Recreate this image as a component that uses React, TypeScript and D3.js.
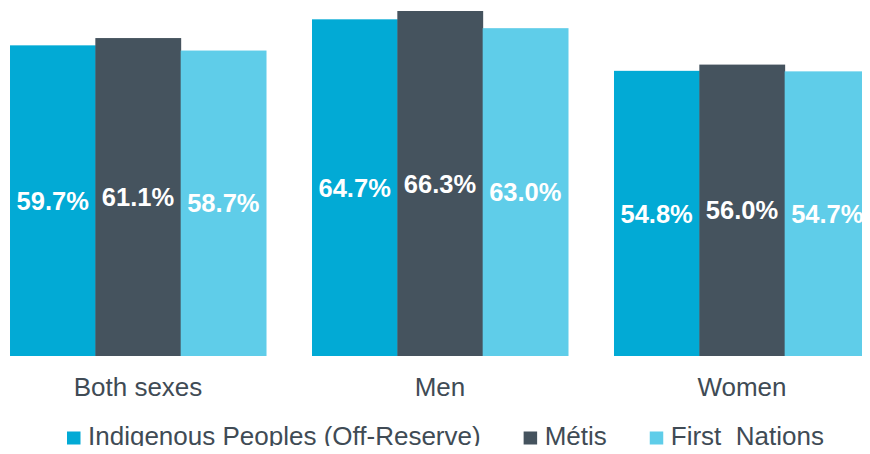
import React, { useEffect, useRef } from "react";
import * as d3 from "d3";

const categories = ["Both sexes", "Men", "Women"];
const seriesNames = ["Indigenous Peoples (Off-Reserve)", "Métis", "First  Nations"];
const indigenousValues = [59.7, 64.7, 54.8];
const metisValues = [61.1, 66.3, 56.0];
const firstNationsValues = [58.7, 63.0, 54.7];
const seriesColors = ["#02AAD5", "#45535E", "#5FCDE9"];

const W = 870;
const H = 454;
const FONT = "'Liberation Sans', Arial, sans-serif";
const TEXT = "#404B55";

export default function App() {
  const ref = useRef<SVGSVGElement>(null);

  useEffect(() => {
    const svg = d3.select(ref.current);
    svg.selectAll("*").remove();
    const seriesValues = [indigenousValues, metisValues, firstNationsValues];

    const x0 = d3.scaleBand<string>().domain(categories).range([-13, 893]).paddingInner(0.1523).paddingOuter(0.0762);
    const x1 = d3.scaleBand<number>().domain([0, 1, 2]).range([0, x0.bandwidth()]);
    const y = d3.scaleLinear().domain([0, 66.3]).range([356, 11]);

    const groups = svg
      .selectAll("g.cat")
      .data(categories)
      .join("g")
      .attr("class", "cat")
      .attr("transform", (d) => `translate(${x0(d)},0)`);

    groups.each(function (cat, ci) {
      const g = d3.select(this);
      const rows = seriesValues.map((vals, si) => ({ si, v: vals[ci] }));
      g.selectAll("rect")
        .data(rows)
        .join("rect")
        .attr("x", (d) => x1(d.si)!)
        .attr("width", x1.bandwidth() + 0.5)
        .attr("y", (d) => y(d.v))
        .attr("height", (d) => y(0) - y(d.v))
        .attr("fill", (d) => seriesColors[d.si]);
      g.selectAll("text.val")
        .data(rows)
        .join("text")
        .attr("class", "val")
        .attr("x", (d) => x1(d.si)! + x1.bandwidth() / 2)
        .attr("y", (d) => (y(d.v) + y(0)) / 2)
        .attr("dy", "0.36em")
        .attr("text-anchor", "middle")
        .attr("font-family", FONT)
        .attr("font-weight", "bold")
        .attr("font-size", 25.5)
        .attr("fill", "#ffffff")
        .text((d) => d.v.toFixed(1) + "%");
      g.append("text")
        .attr("x", x0.bandwidth() / 2)
        .attr("y", 396)
        .attr("text-anchor", "middle")
        .attr("font-family", FONT)
        .attr("font-size", 26)
        .attr("fill", TEXT)
        .text(cat);
    });

    // legend
    const legend = svg.append("g");
    let cx = 67;
    seriesNames.forEach((name, i) => {
      legend
        .append("rect")
        .attr("x", cx)
        .attr("y", 431.5)
        .attr("width", 13.5)
        .attr("height", 13)
        .attr("fill", seriesColors[i]);
      const t = legend
        .append("text")
        .attr("x", cx + 21)
        .attr("y", 445)
        .attr("font-family", FONT)
        .attr("font-size", 26)
        .attr("fill", TEXT)
        .style("white-space", "pre")
        .text(name);
      const w = (t.node() as SVGTextElement).getComputedTextLength();
      cx = cx + 21 + w + 43;
    });
  }, []);

  return <svg ref={ref} width={W} height={H} style={{ display: "block", margin: "-8px" }} />;
}
